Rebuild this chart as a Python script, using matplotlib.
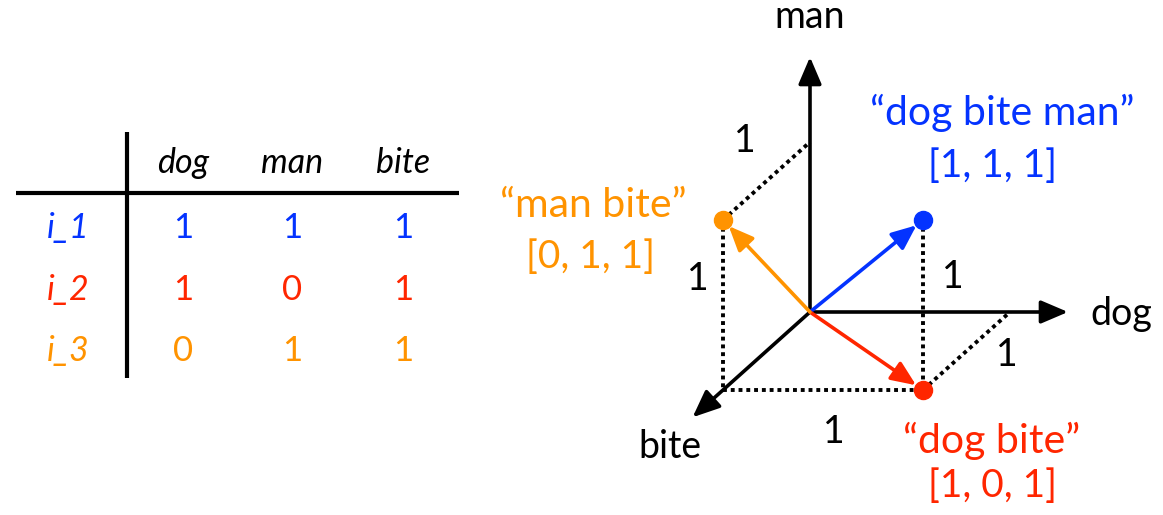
import numpy as np
import matplotlib
matplotlib.use('Agg')
import matplotlib.pyplot as plt

plt.rcParams['font.family'] = ['Lato', 'DejaVu Sans']

# word order used for both the table columns and the vector coordinates
words = ['dog', 'man', 'bite']
row_names = ['i_1', 'i_2', 'i_3']
row_values = [[1, 1, 1],
              [1, 0, 1],
              [0, 1, 1]]
phrases = ['\u201cdog bite man\u201d', '\u201cdog bite\u201d', '\u201cman bite\u201d']
colors = ['#0433ff', '#ff2600', '#ff9300']

# box edges drawn dotted (pairs of corners in dog/man/bite units)
edges = [([0, 1, 1], [0, 1, 0]),
         ([0, 1, 1], [0, 0, 1]),
         ([0, 0, 1], [1, 0, 1]),
         ([1, 0, 1], [1, 0, 0]),
         ([1, 1, 1], [1, 0, 1])]

# ---- layout (pixel space of a 1163x515 canvas) ----
origin = np.array([810.0, 312.0])
basis = np.array([[200.0, 0.0],     # dog
                  [0.0, -170.0],    # man
                  [-87.0, 78.0]])   # bite
axis_len = [1.29, 1.5, 1.35]


def proj(v):
    return origin + np.asarray(v, dtype=float) @ basis


fig = plt.figure(figsize=(11.63, 5.15), dpi=100)
ax = fig.add_axes([0, 0, 1, 1])
ax.set_xlim(0, 1163)
ax.set_ylim(515, 0)
ax.axis('off')

# ---- table ----
col_x = [183, 292, 403]
row_y = [238, 300, 361]
ax.plot([16, 459], [193, 193], color='black', lw=3, solid_capstyle='butt')
ax.plot([127, 127], [132, 378], color='black', lw=3, solid_capstyle='butt')
for x, w in zip(col_x, words):
    ax.text(x, 173, w, ha='center', va='baseline', fontsize=24.5, style='italic')
for i, (name, vals) in enumerate(zip(row_names, row_values)):
    ax.text(68, row_y[i], name, ha='center', va='baseline', fontsize=24.5,
            style='italic', color=colors[i])
    for x, v in zip(col_x, vals):
        ax.text(x, row_y[i], str(v), ha='center', va='baseline', fontsize=25,
                color=colors[i])

# ---- dotted box edges ----
for a, b in edges:
    p, q = proj(a), proj(b)
    ax.plot([p[0], q[0]], [p[1], q[1]], color='black', lw=2.8,
            linestyle=(0, (1.0, 1.0)), zorder=1)

# ---- coordinate axes ----
for k in range(3):
    e = np.zeros(3)
    e[k] = axis_len[k]
    tip = proj(e)
    ax.annotate('', xy=tip, xytext=origin,
                arrowprops=dict(arrowstyle='-|>,head_length=0.75,head_width=0.32',
                                color='black', lw=2.6, mutation_scale=22,
                                shrinkA=0, shrinkB=0), zorder=2)
ax.text(810, 28, 'man', ha='center', va='baseline', fontsize=27)
ax.text(1090, 325, 'dog', ha='left', va='baseline', fontsize=27)
ax.text(670, 458, 'bite', ha='center', va='baseline', fontsize=27)

# ---- unit labels, anchored to edge midpoints ----
unit_offsets = [(-22, 40), (-25, 26), (11, -42), (40, -4), (30, 28)]
for (a, b), off in zip(edges, unit_offsets):
    mid = (proj(a) + proj(b)) / 2
    ax.annotate('1', xy=mid, xytext=off, textcoords='offset pixels',
                ha='center', va='center', fontsize=27)

# ---- sentence vectors ----
label_pos = {0: ((1002, 125), (992, 177)),
             1: ((992, 453), (993, 497)),
             2: ((593, 217), (590, 268))}
for i, vals in enumerate(row_values):
    pt = proj(vals)
    ax.annotate('', xy=pt, xytext=origin,
                arrowprops=dict(arrowstyle='-|>,head_length=0.75,head_width=0.32',
                                color=colors[i], lw=2.6, mutation_scale=20,
                                shrinkA=0, shrinkB=6), zorder=3)
    ax.plot(pt[0], pt[1], 'o', color=colors[i], markersize=13, zorder=4)
    (tx, ty), (vx, vy) = label_pos[i]
    ax.text(tx, ty, phrases[i], ha='center', va='baseline', fontsize=29.5,
            color=colors[i])
    ax.text(vx, vy, '[' + ', '.join(str(v) for v in vals) + ']', ha='center',
            va='baseline', fontsize=28, color=colors[i])

fig.savefig('out.png', dpi=100)
